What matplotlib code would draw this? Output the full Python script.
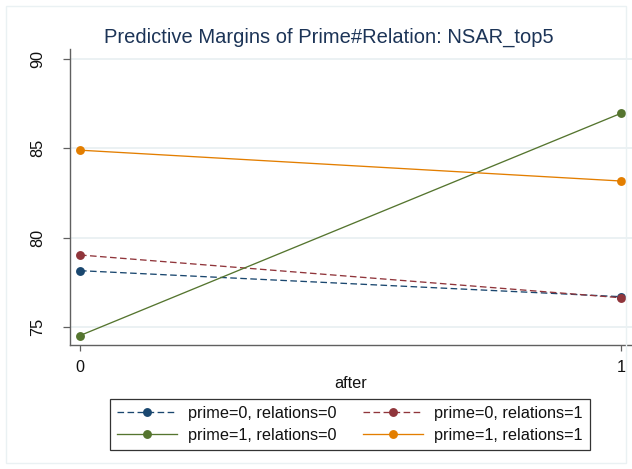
import matplotlib
matplotlib.use("Agg")
import matplotlib.pyplot as plt
from matplotlib.patches import Rectangle

plt.rcParams['font.family'] = ['Liberation Sans', 'DejaVu Sans']

# Predictive margins by period (after = 0 / 1)
after = [0, 1]
labels = ["prime=0, relations=0", "prime=0, relations=1",
          "prime=1, relations=0", "prime=1, relations=1"]
m_p0_r0 = [78.14, 76.68]
m_p0_r1 = [79.02, 76.62]
m_p1_r0 = [74.50, 86.97]
m_p1_r1 = [84.90, 83.17]
yticks = [75, 80, 85, 90]
xticks = [0, 1]

W, H = 632, 469
fig = plt.figure(figsize=(W / 100, H / 100), dpi=100)
fig.patch.set_facecolor("white")

# faint outer graph-region border
fig.patches.append(Rectangle((6 / W, 6 / H), (W - 12) / W, (H - 12) / H,
                             transform=fig.transFigure, fill=False,
                             edgecolor="#eaf1f3", linewidth=1.0, zorder=0))

ax_l, ax_r, ax_t, ax_b = 70, 632, 49.3, 345
ax = fig.add_axes([ax_l / W, 1 - ax_b / H, (ax_r - ax_l) / W, (ax_b - ax_t) / H])

series = [
    (m_p0_r0, "#1a476f", (0, (5, 2.6))),
    (m_p0_r1, "#90353b", (0, (5, 2.6))),
    (m_p1_r0, "#55752f", "-"),
    (m_p1_r1, "#e37e00", "-"),
]
handles = []
for (vals, col, ls), lab in zip(series, labels):
    h, = ax.plot(after, vals, color=col, linestyle=ls, linewidth=0.95,
                 marker="o", markersize=6.4, markeredgewidth=0,
                 label=lab, zorder=3)
    handles.append(h)

ax.set_xlim(-0.0185, 1.0203)
ax.set_ylim(73.97, 90.56)
ax.set_xticks(xticks)
ax.set_yticks(yticks)
ax.set_yticklabels([str(t) for t in yticks], rotation=90, va="center")
ax.grid(axis="y", color="#e9f0f2", linewidth=1.3, zorder=0)
ax.set_axisbelow(True)

for side in ("top", "right"):
    ax.spines[side].set_visible(False)
for side in ("left", "bottom"):
    ax.spines[side].set_color("#606060")
    ax.spines[side].set_linewidth(1.0)

ax.tick_params(axis="y", length=5.3, width=0.9, color="#606060",
               labelsize=11.7, pad=12.5, labelcolor="#111111")
ax.tick_params(axis="x", length=4.5, width=0.9, color="#606060",
               labelsize=11.7, pad=6.0, labelcolor="#111111")

ax.set_xlabel("after", fontsize=11.7, color="#111111", labelpad=1)

fig.text(329 / W, 1 - 42.7 / H, "Predictive Margins of Prime#Relation: NSAR_top5",
         ha="center", va="baseline", fontsize=14.5, color="#1c3457")

# legend filled row by row: matplotlib fills columns first, so interleave
order = [0, 2, 1, 3]
leg = fig.legend(handles=[handles[i] for i in order],
                 labels=[labels[i] for i in order],
                 ncol=2, loc="center",
                 bbox_to_anchor=(350 / W, 1 - 424.5 / H),
                 fontsize=11.7, frameon=True, fancybox=False,
                 edgecolor="black", handlelength=3.7, handletextpad=0.7,
                 columnspacing=1.6, labelspacing=0.45, borderpad=0.4)
leg.get_frame().set_linewidth(0.9)
for t in leg.get_texts():
    t.set_color("#111111")

fig.savefig("out.png", dpi=100, facecolor="white")
